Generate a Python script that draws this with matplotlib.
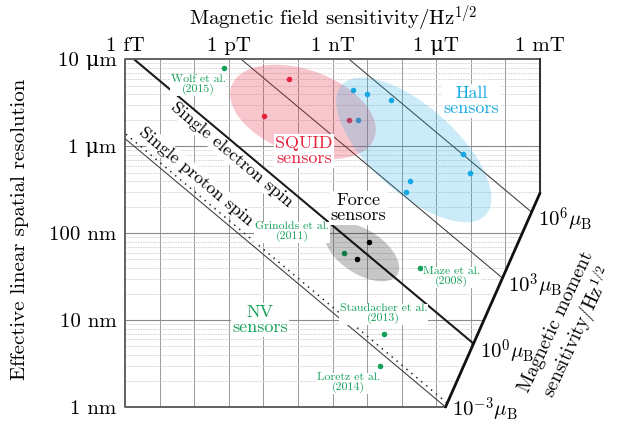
import numpy as np
import matplotlib.pyplot as plt
from matplotlib.patches import Polygon

plt.rcParams['font.family'] = ['cmr10', 'DejaVu Serif']
plt.rcParams['mathtext.fontset'] = 'cm'
plt.rcParams['axes.formatter.use_mathtext'] = True

# field sensitivity (T/Hz^1/2) vs. spatial resolution (m)
squid_B = [5.5e-11, 1.05e-11, 3.0e-9]
squid_r = [6.0e-6, 2.24e-6, 2.0e-6]
hall_B = [4.0e-9, 1.0e-8, 4.9e-8, 5.3e-9, 6.0e-6, 9.4e-6, 1.8e-7, 1.32e-7]
hall_r = [4.46e-6, 4.0e-6, 3.4e-6, 2.0e-6, 8.2e-7, 5.0e-7, 4.0e-7, 2.96e-7]
force_B = [1.13e-8, 5.1e-9]
force_r = [7.9e-8, 5.0e-8]
nv_names = ['Wolf et al.\n(2015)', 'Grinolds et al.\n(2011)', 'Maze et al.\n(2008)',
            'Staudacher et al.\n(2013)', 'Loretz et al.\n(2014)']
nv_B = [7.4e-13, 2.18e-9, 3.36e-7, 3.0e-8, 2.4e-8]
nv_r = [7.9e-6, 6.0e-8, 4.0e-8, 7.0e-9, 2.97e-9]

# moment sensitivity lines, in Bohr magnetons
moment_lines = [1e-3, 1.0, 1.26e3, 1.66e6]
moment_labels = [r'$10^{-3}\mu_\mathrm{B}$', r'$10^{0}\mu_\mathrm{B}$',
                 r'$10^{3}\mu_\mathrm{B}$', r'$10^{6}\mu_\mathrm{B}$']
proton_moment = 1.52e-3

field_ticks = [1e-15, 1e-12, 1e-9, 1e-6, 1e-3]
field_labels = ['1 fT', '1 pT', '1 nT', '1 \u03bcT', '1 mT']
res_ticks = [1e-9, 1e-8, 1e-7, 1e-6, 1e-5]
res_labels = ['1 nm', '10 nm', '100 nm', '1 \u03bcm', '10 \u03bcm']

MU_B = 9.274e-24
MU0_2PI = 2e-7

RED = '#e6223c'
BLUE = '#14a8e4'
GREEN = '#14a059'


def field(m, r):
    return MU0_2PI * m * MU_B / r ** 3


def ellipse(ax, center, a, b, angle, **kw):
    # ellipse defined in screen pixels around a data point
    cx, cy = ax.transData.transform(center)
    t = np.linspace(0, 2 * np.pi, 200)
    th = np.deg2rad(angle)
    x = a * np.cos(t) * np.cos(th) - b * np.sin(t) * np.sin(th)
    y = a * np.cos(t) * np.sin(th) + b * np.sin(t) * np.cos(th)
    pts = ax.transData.inverted().transform(np.column_stack([cx + x, cy + y]))
    p = Polygon(pts, closed=True, **kw)
    ax.add_patch(p)
    return p


fig = plt.figure(figsize=(6.22, 4.23), dpi=100)
ax = fig.add_axes([125 / 622, 16 / 423, 415 / 622, 347.5 / 423])
ax.set_xscale('log')
ax.set_yscale('log')
xmin, xmax = 1e-15, 1e-3
ymin, ymax = 1e-9, 1e-5
ax.set_xlim(xmin, xmax)
ax.set_ylim(ymin, ymax)
ax.patch.set_visible(False)
for s in ax.spines.values():
    s.set_visible(False)
ax.minorticks_off()
ax.xaxis.tick_top()
ax.set_xticks(field_ticks, labels=field_labels)
ax.set_yticks(res_ticks, labels=res_labels)
ax.tick_params(which='both', length=0, labelsize=15)
ax.tick_params(axis='x', pad=3)
ax.tick_params(axis='y', pad=6)

# clipping region: cut along the moment axis on the right
r_corner = 2.9e-7
B_corner = field(moment_lines[0], ymin)
verts = [(xmin, ymin), (xmin, ymax), (xmax, ymax), (xmax, r_corner), (B_corner, ymin)]
clip = Polygon(verts, closed=True, facecolor='none', edgecolor='none', transform=ax.transData)
ax.add_patch(clip)

# grid
dec_x = [10.0 ** k for k in range(-14, -3)]
vl = ax.vlines(dec_x, ymin, ymax, color='#9a9a9a', lw=0.7, zorder=1)
vl.set_clip_path(clip)
minor_y = [k * 10.0 ** e for e in range(-9, -5) for k in range(2, 10)]
hm = ax.hlines(minor_y, xmin, xmax, color='#d2d2d2', lw=0.6, linestyles=(0, (2, 1)), zorder=1)
hm.set_clip_path(clip)
hl = ax.hlines([1e-8, 1e-7, 1e-6], xmin, xmax, color='#8a8a8a', lw=0.8, zorder=1)
hl.set_clip_path(clip)

# moment lines
r = np.logspace(-9, -5, 50)
for i, m in enumerate(moment_lines):
    thick = (m == 1.0)
    ln, = ax.plot(field(m, r), r, color='#1a1a1a' if thick else '#3a3a3a',
                  lw=1.5 if thick else 0.75, zorder=2)
    ln.set_clip_path(clip)
ln, = ax.plot(field(proton_moment, r), r, color='#2a2a2a', lw=1.1,
              linestyle=(0, (1, 3.2)), zorder=2)
ln.set_clip_path(clip)

# moment axis labels at the line ends
x1, y1 = np.log10(xmax), np.log10(r_corner)
x2, y2 = np.log10(B_corner), np.log10(ymin)
for m, lab in zip(moment_lines, moment_labels):
    k = np.log10(MU0_2PI * m * MU_B)
    t = (k - x2 - 3 * y2) / ((x1 - x2) + 3 * (y1 - y2))
    px, py = 10 ** (x2 + t * (x1 - x2)), 10 ** (y2 + t * (y1 - y2))
    dy = -3 if t < 0.01 else -8   # keep the bottom one inside the figure
    ax.annotate(lab, (px, py), xytext=(6, dy), textcoords='offset pixels',
                ha='left', va='center', fontsize=15, annotation_clip=False)

# frame
ax.plot([xmax, xmin, xmin, B_corner], [ymax, ymax, ymin, ymin], color='#555555', lw=1.3,
        clip_on=False, zorder=6, solid_capstyle='projecting')
ax.plot([xmax, xmax], [ymax, r_corner], color='#333333', lw=1.5, clip_on=False, zorder=6)
ax.plot([xmax, B_corner], [r_corner, ymin], color='#111111', lw=2.0, clip_on=False, zorder=6,
        solid_capstyle='round')

# data points
ax.scatter(squid_B, squid_r, s=16, color=RED, lw=0, zorder=3)
ax.scatter(hall_B, hall_r, s=16, color=BLUE, lw=0, zorder=3)
ax.scatter(force_B, force_r, s=16, color='black', lw=0, zorder=3)
ax.scatter(nv_B, nv_r, s=16, color=GREEN, lw=0, zorder=3)

# sensor regions
ellipse(ax, (1.4e-10, 2.49e-6), 76, 42, -20, facecolor=RED, edgecolor='none', alpha=0.25, zorder=4)
ellipse(ax, (2.25e-7, 9.1e-7), 97, 43, -42, facecolor=BLUE, edgecolor='none', alpha=0.22, zorder=4)
ellipse(ax, (7.1e-9, 6.1e-8), 42, 22, -33, facecolor='black', edgecolor='none', alpha=0.22, zorder=4)

box = dict(facecolor='white', edgecolor='none', pad=1.0)
ax.text(1.49e-10, 8.85e-7, 'SQUID\nsensors', color=RED, fontsize=13, ha='center', va='center',
        linespacing=1.0, bbox=box, zorder=5)
ax.text(1.05e-5, 3.33e-6, 'Hall\nsensors', color=BLUE, fontsize=13, ha='center', va='center',
        linespacing=1.0, bbox=box, zorder=5)
ax.text(5.7e-9, 1.95e-7, 'Force\nsensors', color='black', fontsize=13, ha='center', va='center',
        linespacing=1.0, bbox=box, zorder=5)
ax.text(8.0e-12, 1.0e-8, 'NV\nsensors', color=GREEN, fontsize=13, ha='center', va='center',
        linespacing=1.0, bbox=box, zorder=5)
ax.text(1.24e-12, 7.96e-7, 'Single electron spin', fontsize=13, rotation=-40,
        rotation_mode='anchor', ha='center', va='center', bbox=box, zorder=5)
ax.text(1.13e-13, 4.56e-7, 'Single proton spin', fontsize=13, rotation=-40,
        rotation_mode='anchor', ha='center', va='center', bbox=box, zorder=5)

nv_offsets = [(-26, -16), (-52, 21), (32, -9), (0, 20), (-32, -17)]
for name, b, rr, off in zip(nv_names, nv_B, nv_r, nv_offsets):
    ax.annotate(name, (b, rr), xytext=off, textcoords='offset pixels', color=GREEN,
                fontsize=8.5, ha='center', va='center', linespacing=1.0,
                bbox=dict(facecolor='white', edgecolor='none', pad=0.5), zorder=5)

fig.text(333 / 622, 1 - 18 / 423, r'Magnetic field sensitivity/Hz$^{1/2}$', fontsize=15,
         ha='center', va='center')
fig.text(20 / 622, 1 - 229 / 423, 'Effective linear spatial resolution', fontsize=15,
         ha='center', va='center', rotation=90)
fig.text(569 / 622, 1 - 328 / 423, 'Magnetic moment\n' + r'sensitivity/Hz$^{1/2}$', fontsize=14,
         ha='center', va='center', rotation=65, linespacing=1.05)

fig.savefig('out.png', dpi=100)
